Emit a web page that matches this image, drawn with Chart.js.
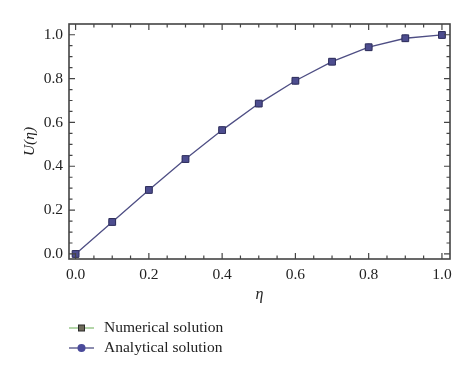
<!DOCTYPE html>
<html>
<head>
<meta charset="utf-8">
<script src="https://cdn.jsdelivr.net/npm/chart.js@4"></script>
<style>
html,body{margin:0;padding:0;background:#fff;}
#wrap{width:474px;height:379px;position:relative;}
</style>
</head>
<body>
<div id="wrap"><canvas id="c" width="474" height="379"></canvas></div>
<script>
const etaValues = [0.0, 0.1, 0.2, 0.3, 0.4, 0.5, 0.6, 0.7, 0.8, 0.9, 1.0];
const numericalU = [0.0, 0.146, 0.292, 0.433, 0.565, 0.686, 0.790, 0.877, 0.943, 0.984, 0.999];
const analyticalU = [0.0, 0.146, 0.292, 0.433, 0.565, 0.686, 0.790, 0.877, 0.943, 0.984, 0.999];
const xTicks = [0.0, 0.2, 0.4, 0.6, 0.8, 1.0];
const yTicks = [0.0, 0.2, 0.4, 0.6, 0.8, 1.0];
const seriesNames = ['Numerical solution', 'Analytical solution'];

const serif = "'Liberation Serif', 'DejaVu Serif', serif";
const frameColor = '#444';

const toPts = (xs, ys) => xs.map((x, i) => ({x: x, y: ys[i]}));

const framePlugin = {
  id: 'frame',
  afterDatasetsDraw(chart) {
    const {ctx, chartArea: a, scales: {x, y}} = chart;
    ctx.save();
    ctx.strokeStyle = frameColor;
    ctx.lineWidth = 1.6;
    ctx.strokeRect(a.left, a.top, a.right - a.left, a.bottom - a.top);
    ctx.lineWidth = 1.2;
    ctx.beginPath();
    for (let k = 0; k <= 20; k++) {
      const v = k * 0.05;
      const major = k % 4 === 0;
      const len = major ? 6 : 3.5;
      const px = x.getPixelForValue(v);
      ctx.moveTo(px, a.bottom); ctx.lineTo(px, a.bottom - len);
      ctx.moveTo(px, a.top); ctx.lineTo(px, a.top + len);
      const py = y.getPixelForValue(v);
      ctx.moveTo(a.left, py); ctx.lineTo(a.left + len, py);
      ctx.moveTo(a.right, py); ctx.lineTo(a.right - len, py);
    }
    ctx.stroke();
    ctx.restore();
  },
  afterDraw(chart) {
    const ctx = chart.ctx;
    ctx.save();
    const rows = [
      {ds: chart.data.datasets[0], y: 328, marker: 'square'},
      {ds: chart.data.datasets[1], y: 348, marker: 'circle'}
    ];
    rows.forEach(r => {
      ctx.strokeStyle = r.ds.legendLineColor || r.ds.borderColor;
      ctx.lineWidth = 1.3;
      ctx.beginPath();
      ctx.moveTo(69, r.y); ctx.lineTo(94, r.y);
      ctx.stroke();
      if (r.marker === 'square') {
        ctx.fillStyle = '#6e6a5a';
        ctx.strokeStyle = '#2a2a2a';
        ctx.lineWidth = 1;
        ctx.fillRect(78.5, r.y - 3, 6, 6);
        ctx.strokeRect(78.5, r.y - 3, 6, 6);
      } else {
        ctx.fillStyle = r.ds.pointBackgroundColor;
        ctx.beginPath();
        ctx.arc(81.5, r.y, 4, 0, Math.PI * 2);
        ctx.fill();
      }
      ctx.fillStyle = '#222';
      ctx.font = "15.5px " + serif;
      ctx.textBaseline = 'middle';
      ctx.textAlign = 'left';
      ctx.fillText(r.ds.label, 104, r.y);
    });
    ctx.restore();
  }
};

new Chart(document.getElementById('c'), {
  type: 'scatter',
  data: {
    datasets: [
      {
        label: seriesNames[0],
        data: toPts(etaValues, numericalU),
        showLine: false,
        borderColor: '#8cc07a',
        legendLineColor: '#8cc07a',
        pointStyle: 'rect',
        pointRadius: 4.8,
        pointBackgroundColor: '#4d4d8f',
        pointBorderColor: '#2e2e5a',
        pointBorderWidth: 1,
        order: 0
      },
      {
        label: seriesNames[1],
        data: toPts(etaValues, analyticalU),
        showLine: true,
        borderColor: '#4e4e84',
        borderWidth: 1.3,
        pointStyle: 'circle',
        pointRadius: 3,
        pointBackgroundColor: '#4a4a9a',
        pointBorderColor: '#4a4a9a',
        tension: 0,
        order: 1
      }
    ]
  },
  options: {
    responsive: false,
    animation: false,
    devicePixelRatio: 1,
    layout: {padding: {top: 24, right: 24, left: 0, bottom: 0}},
    plugins: {legend: {display: false}, tooltip: {enabled: false}},
    scales: {
      x: {
        type: 'linear',
        min: -0.018,
        max: 1.022,
        afterFit(s) { s.height = 120; },
        afterBuildTicks(s) { s.ticks = xTicks.map(v => ({value: v})); },
        grid: {display: false, drawTicks: false},
        border: {display: false},
        ticks: {
          padding: 7,
          color: '#222',
          font: {family: serif, size: 15.5},
          callback: v => Number(v).toFixed(1)
        },
        title: {
          display: true,
          text: 'η',
          color: '#222',
          font: {family: serif, size: 16, style: 'italic'},
          padding: {top: 0, bottom: 75}
        }
      },
      y: {
        type: 'linear',
        min: -0.023,
        max: 1.049,
        afterFit(s) { s.width = 69; },
        afterBuildTicks(s) { s.ticks = yTicks.map(v => ({value: v})); },
        grid: {display: false, drawTicks: false},
        border: {display: false},
        ticks: {
          padding: 6,
          color: '#222',
          font: {family: serif, size: 15.5},
          callback: v => Number(v).toFixed(1)
        },
        title: {
          display: true,
          text: 'U(η)',
          color: '#222',
          font: {family: serif, size: 15.5, style: 'italic'},
          padding: {top: 21, bottom: 0}
        }
      }
    }
  },
  plugins: [framePlugin]
});
</script>
</body>
</html>
